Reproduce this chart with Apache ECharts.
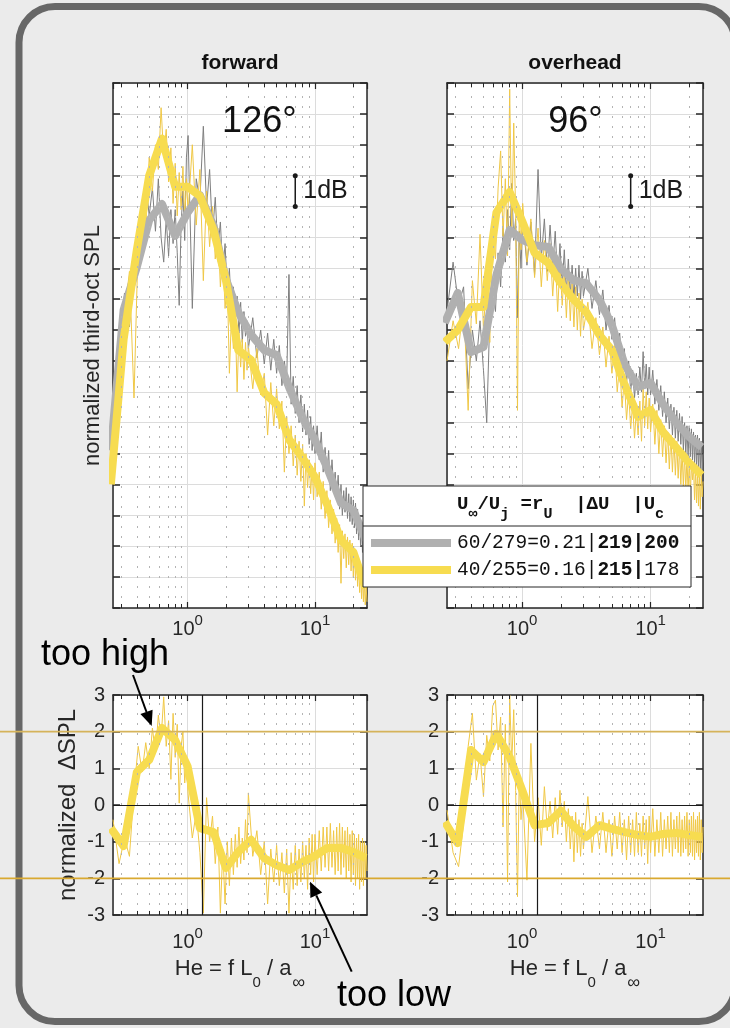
<!DOCTYPE html>
<html>
<head>
<meta charset="utf-8">
<title>forward / overhead</title>
<script src="https://cdn.jsdelivr.net/npm/echarts@6/dist/echarts.min.js"></script>
<style>
  html, body { margin: 0; padding: 0; background: #ebebeb; }
  #myChart { width: 730px; height: 1028px; }
</style>
</head>
<body>
<div id="myChart"></div>
<script>
// narrowband frequencies (He)
const nbFreq = [0.26, 0.29, 0.32, 0.35, 0.38, 0.41, 0.44, 0.47, 0.50, 0.53,
  0.56, 0.59, 0.62, 0.65, 0.68, 0.71, 0.74, 0.77, 0.80, 0.83,
  0.86, 0.89, 0.92, 0.95, 0.98, 1.01, 1.09, 1.17, 1.25, 1.33,
  1.41, 1.49, 1.57, 1.65, 1.73, 1.81, 1.89, 1.97, 2.05, 2.13,
  2.21, 2.29, 2.37, 2.45, 2.53, 2.61, 2.69, 2.77, 2.85, 2.93,
  3.0, 3.25, 3.5, 3.75, 4.0, 4.25, 4.5, 4.75, 5.0, 5.25,
  5.5, 5.75, 6.0, 6.25, 6.5, 6.75, 7.0, 7.25, 7.5, 7.75,
  8.0, 8.25, 8.5, 8.75, 9.0, 9.25, 9.5, 9.75, 10.0, 10.4,
  10.8, 11.2, 11.6, 12.0, 12.4, 12.8, 13.2, 13.6, 14.0, 14.4,
  14.8, 15.2, 15.6, 16.0, 16.4, 16.8, 17.2, 17.6, 18.0, 18.4,
  18.8, 19.2, 19.6, 20.0, 20.4, 20.8, 21.2, 21.6, 22.0, 22.4,
  22.8, 23.2, 23.6, 24.0, 24.4, 24.8, 25.2, 25.6];

// third-octave band centres
const tobFreq = [0.25, 0.315, 0.4, 0.5, 0.63, 0.8, 1, 1.25, 1.6, 2, 2.5,
  3.15, 4, 5, 6.3, 8, 10, 12.5, 16, 20, 25];

// forward 126 deg, narrowband
const fwdNbGray = [6.2, 8.4, 10.2, 9.1, 11.3, 12.4, 11.6, 13.8, 12.7, 13.6,
  12.2, 13.9, 12.0, 11.2, 12.6, 11.4, 12.9, 11.8, 12.9, 11.5,
  9.8, 12.4, 13.5, 11.9, 14.6, 15.3, 9.7, 13.9, 13.2, 15.6,
  13.0, 14.2, 12.1, 13.3, 11.6, 12.5, 10.9, 11.8, 10.2, 11.0,
  9.6, 10.4, 9.3, 10.1, 8.9, 9.9, 8.6, 9.6, 8.8, 9.3,
  8.4, 9.4, 8.1, 9.0, 7.9, 8.9, 7.7, 8.7, 7.6, 8.5,
  7.2, 8.0, 7.4, 10.8, 6.6, 7.5, 6.3, 7.2, 6.0, 6.9,
  5.7, 6.6, 5.6, 6.4, 5.3, 6.2, 5.1, 5.9, 5.0, 5.9,
  4.8, 5.7, 4.4, 5.2, 4.3, 5.1, 3.8, 4.8, 3.9, 4.4,
  3.5, 4.3, 3.2, 4.0, 3.0, 3.8, 3.1, 3.9, 2.9, 3.7,
  2.8, 3.6, 2.7, 3.5, 2.6, 3.4, 2.4, 3.2, 2.2, 3.0,
  2.0, 2.8, 1.8, 2.6, 1.6, 2.4, 1.5, 2.1];
const fwdNbYel = [5.2, 7.6, 9.5, 10.9, 6.8, 11.9, 13.0, 12.3, 14.6, 13.5,
  15.0, 14.2, 16.2, 14.6, 15.5, 13.8, 14.9, 13.1, 14.4, 12.7,
  14.1, 12.9, 14.3, 12.6, 13.9, 12.8, 15.0, 12.4, 14.2, 10.6,
  13.5, 11.7, 13.0, 11.3, 12.3, 10.4, 11.5, 9.7, 10.6, 7.6,
  9.4, 8.4, 9.3, 7.0, 8.9, 7.8, 8.7, 7.4, 8.6, 7.7,
  8.5, 7.1, 8.4, 6.9, 7.6, 5.6, 7.3, 5.9, 7.1, 5.8,
  6.7, 4.4, 6.2, 5.0, 5.9, 4.6, 5.6, 4.3, 5.4, 4.1,
  5.3, 3.3, 5.0, 3.9, 4.8, 3.7, 4.6, 3.5, 4.7, 3.6,
  4.4, 3.2, 4.1, 2.9, 3.8, 2.6, 3.5, 2.4, 3.2, 2.1,
  2.9, 1.8, 2.7, 0.8, 2.5, 1.6, 2.4, 1.3, 2.3, 1.4,
  2.2, 1.2, 2.1, 1.0, 1.9, 0.9, 1.7, 0.7, 1.5, 0.5,
  1.3, 0.3, 1.1, 0.2, 0.9, 0.1, 0.7, 0.2];
// overhead 96 deg, narrowband
const ohNbGray = [9.6, 11.2, 9.8, 10.4, 7.1, 9.0, 8.0, 9.3, 7.7, 6.0,
  9.4, 10.2, 9.6, 11.5, 10.4, 12.3, 11.2, 12.9, 11.6, 13.75,
  11.9, 12.6, 9.4, 12.2, 11.0, 12.7, 11.1, 12.5, 10.8, 14.2,
  11.3, 12.6, 10.9, 12.4, 11.0, 12.2, 10.6, 11.8, 10.4, 11.6,
  10.2, 11.3, 10.1, 11.1, 10.0, 11.0, 10.1, 11.1, 10.0, 10.9,
  10.1, 11.0, 9.7, 10.6, 9.5, 10.3, 9.0, 9.8, 8.7, 9.4,
  8.2, 8.9, 7.7, 8.4, 7.3, 8.0, 7.0, 7.7, 6.8, 7.6,
  6.9, 7.8, 7.0, 8.3, 7.1, 7.9, 6.9, 7.8, 6.9, 7.7,
  6.6, 7.4, 6.4, 7.2, 6.2, 7.0, 6.0, 6.8, 5.8, 6.6,
  5.6, 6.5, 5.5, 6.4, 5.4, 6.3, 5.3, 6.2, 5.1, 6.0,
  5.0, 5.9, 4.9, 5.9, 4.9, 5.8, 4.8, 5.7, 4.7, 5.6,
  4.6, 5.6, 4.5, 5.5, 4.5, 5.4, 4.4, 5.0];
const ohNbYel = [8.0, 9.3, 8.4, 9.9, 6.4, 10.6, 9.2, 12.1, 9.0, 10.8,
  8.6, 12.4, 11.3, 13.6, 14.8, 12.0, 13.9, 11.4, 16.8, 12.2,
  15.7, 12.8, 6.4, 12.9, 11.6, 13.1, 11.2, 12.6, 10.7, 12.3,
  10.4, 11.9, 10.6, 11.8, 10.1, 11.4, 9.6, 11.2, 9.8, 10.9,
  9.4, 10.8, 9.3, 10.5, 9.1, 10.4, 9.0, 10.2, 8.8, 10.0,
  9.0, 9.9, 8.4, 9.4, 8.2, 9.1, 7.8, 8.8, 7.6, 8.5,
  7.0, 7.9, 6.5, 7.4, 6.1, 7.0, 5.8, 6.6, 5.5, 6.4,
  5.6, 6.7, 5.4, 7.1, 5.9, 7.0, 5.8, 6.8, 5.7, 6.6,
  5.3, 6.4, 5.0, 6.1, 4.9, 5.9, 4.7, 5.7, 4.5, 5.6,
  4.4, 5.5, 4.3, 5.4, 4.2, 5.2, 4.0, 5.1, 3.9, 5.0,
  3.8, 4.9, 3.7, 4.8, 3.6, 4.7, 4.15, 4.6, 3.5, 4.5,
  3.4, 4.4, 3.3, 4.4, 3.2, 4.3, 3.6, 4.1];

// third-octave spectra
const fwdTobGray = [5.1, 9.65, 11.04, 12.56, 13.08, 12.05, 12.8, 13.37, 12.37, 10.65, 9.58,
  8.85, 8.35, 8.19, 7.12, 6.15, 5.44, 4.53, 3.4, 3.17, 2.2];
const fwdTobYel = [4.0, 8.7, 11.6, 14.0, 15.2, 13.64, 13.64, 13.34, 12.24, 10.62, 8.35,
  8.03, 6.96, 6.6, 5.44, 4.86, 4.24, 3.34, 2.2, 1.81, 0.65];
const ohTobGray = [9.23, 10.2, 8.29, 8.45, 10.78, 12.24, 11.92, 11.75, 11.69, 11.0, 10.62,
  10.52, 9.97, 9.16, 7.87, 7.16, 7.29, 6.6, 5.99, 5.54, 5.21];
const ohTobYel = [8.61, 9.0, 9.75, 9.75, 12.8, 13.47, 12.53, 11.5, 11.17, 10.52, 10.0,
  9.59, 8.84, 8.35, 7.22, 6.19, 6.41, 5.7, 5.18, 4.7, 4.3];

// normalized delta SPL
const fwdNbDelta = [-0.4, -1.6, -0.9, -1.4, 0.4, 1.6, 0.9, 1.7, 1.0, 2.1,
  1.4, 2.45, 1.8, 2.95, 1.6, 2.3, 0.7, 2.5, 1.3, 2.2,
  0.05, 1.6, 2.0, 0.6, 1.2, 0.3, -0.9, -0.2, -1.3, -2.95,
  0.2, -1.0, -0.3, -1.6, -0.6, -2.95, -1.2, -2.7, -1.0, -2.2,
  -0.9, -1.9, -0.8, -1.7, -0.6, -1.6, -0.9, -1.5, -0.4, -1.3,
  0.33, -1.4, -0.7, -1.9, -1.0, -2.7, -1.2, -2.1, -1.1, -2.2,
  -1.3, -2.4, -1.2, -2.95, -1.3, -2.3, -1.1, -2.2, -1.2, -2.1,
  -1.0, -2.0, -1.1, -2.3, -0.9, -1.9, -0.8, -2.1, -0.8, -1.9,
  -0.7, -1.8, -0.6, -1.7, -0.6, -1.8, -0.5, -1.7, -0.7, -1.9,
  -0.6, -1.8, -0.5, -1.9, -0.6, -1.7, -0.7, -2.0, -0.6, -1.8,
  -0.8, -2.1, -0.7, -1.9, -0.8, -2.2, -0.9, -2.0, -0.8, -2.3,
  -1.0, -2.1, -0.9, -2.2, -1.0, -2.0, -1.1, -1.8];
const ohNbDelta = [-0.14, -1.3, -1.68, -0.5, 1.6, 2.5, 0.68, 1.4, 0.23, 1.9,
  1.2, 2.7, 2.86, 1.5, 2.4, -0.6, 2.2, -2.1, 3.0, 1.1,
  2.6, 0.4, -2.5, 0.8, -0.4, 0.3, -2.05, 1.68, -1.0, 0.2,
  -1.1, 0.5, -0.7, 0.1, -0.9, 0.2, -0.8, 0.4, -0.6, 0.1,
  -1.0, -0.1, -1.2, -0.3, -1.55, -0.2, -1.3, -0.4, -1.4, -0.5,
  -1.2, 0.23, -1.3, -0.3, -1.2, -0.2, -1.3, -0.4, -1.4, -0.3,
  -1.2, -0.2, -1.3, -0.4, -1.5, -0.3, -1.3, -0.4, -1.4, -0.2,
  -1.3, -0.5, -1.4, -0.3, -1.2, -0.4, -1.6, -0.3, -1.3, -0.1,
  -1.4, -0.4, -1.3, -0.2, -1.4, -0.4, -1.2, -0.3, -1.3, -0.2,
  -1.4, -0.4, -1.2, -0.3, -1.3, -0.2, -1.4, -0.4, -1.3, -0.3,
  -1.2, -0.2, -1.4, -0.4, -1.3, -0.3, -1.4, -0.2, -1.5, -0.4,
  -1.3, -0.3, -1.4, -0.2, -1.5, -0.4, -1.3, -0.6];
const fwdTobDelta = [-0.63, -1.12, 0.9, 1.23, 2.1, 1.77, 1.06, -0.63, -0.74, -1.72, -1.28,
  -0.95, -1.45, -1.64, -1.77, -1.55, -1.39, -1.17, -1.17, -1.28, -1.45];
const ohTobDelta = [-0.46, -1.04, 1.5, 1.17, 1.94, 1.31, 0.41, -0.55, -0.49, -0.16, -0.57,
  -0.87, -0.55, -0.65, -0.74, -0.82, -0.87, -0.79, -0.76, -0.82, -0.87];

// axis / annotation values
const minorX = [0.3, 0.4, 0.5, 0.6, 0.7, 0.8, 0.9, 2, 3, 4, 5, 6, 7, 8, 9, 20];
const scaleBarX = [7, 7];
const scaleBarY = [13, 14];
const refLineX = 1.3;
const limitY = [2, -2];

const FONT = '"Liberation Sans", Arial, Helvetica, sans-serif';
const MONO = '"Liberation Mono", "DejaVu Sans Mono", monospace';
const INK = '#262626';
const GRAY_NB = '#7f7f7f';
const GRAY_TOB = '#b0b0b0';
const YEL_NB = '#f0c846';
const YEL_TOB = '#f7dc50';

const pairs = (xs, ys) => xs.map((x, i) => [x, ys[i]]);

const gridPos = [
  { left: 113, top: 83, width: 254, height: 525 },
  { left: 447, top: 83, width: 256, height: 525 },
  { left: 113, top: 695, width: 254, height: 220 },
  { left: 447, top: 695, width: 256, height: 220 }
];

function logLabel (v) {
  const e = Math.log10(v);
  if (Math.abs(e - Math.round(e)) > 1e-6) return '';
  return '{b|10}{s|' + Math.round(e) + '}';
}

const xAxes = [];
const yAxes = [];
gridPos.forEach((g, i) => {
  const lower = i >= 2;
  ['bottom', 'top'].forEach(pos => {
    xAxes.push({
      type: 'log', logBase: 10, gridIndex: i, position: pos, min: 0.26, max: 25.6,
      axisLine: { show: true, onZero: false, lineStyle: { color: INK, width: 1.5 } },
      axisTick: { show: true, inside: true, length: 6, lineStyle: { color: INK, width: 1.2 } },
      axisLabel: pos === 'bottom' ? {
        show: true, margin: lower ? 15 : 9, formatter: logLabel, showMinLabel: false, showMaxLabel: false,
        rich: {
          b: { fontFamily: FONT, fontSize: 20, color: INK, lineHeight: 22, verticalAlign: 'bottom' },
          s: { fontFamily: FONT, fontSize: 15, color: INK, lineHeight: 15, verticalAlign: 'bottom', padding: [0, 0, 11, 0] }
        }
      } : { show: false },
      splitLine: { show: pos === 'bottom', lineStyle: { color: '#dcdcdc', width: 1 } },
      name: (lower && pos === 'bottom') ? '{n|He = f L}{s|0}{n| / a}{i|∞}' : '',
      nameLocation: 'middle',
      nameGap: 43,
      nameTextStyle: {
        rich: {
          n: { fontFamily: FONT, fontSize: 22, color: INK, lineHeight: 24, verticalAlign: 'top' },
          s: { fontFamily: FONT, fontSize: 15, color: INK, lineHeight: 15, verticalAlign: 'top', padding: [17, 0, 0, 0] },
          i: { fontFamily: FONT, fontSize: 18, color: INK, lineHeight: 18, verticalAlign: 'top', padding: [16, 0, 0, 1] }
        }
      }
    });
  });
  ['left', 'right'].forEach(pos => {
    yAxes.push({
      type: 'value', gridIndex: i, position: pos,
      min: lower ? -3 : 0, max: lower ? 3 : 17, interval: 1,
      axisLine: { show: true, onZero: false, lineStyle: { color: INK, width: 1.5 } },
      axisTick: { show: true, inside: true, length: 7, lineStyle: { color: INK, width: 1.5 } },
      axisLabel: {
        show: lower && pos === 'left', margin: 8,
        fontFamily: FONT, fontSize: 20, color: INK
      },
      splitLine: { show: pos === 'left', lineStyle: { color: '#dcdcdc', width: 1 } },
      name: pos !== 'left' ? '' : (i === 0 ? 'normalized third-oct SPL' : (i === 2 ? 'normalized  ΔSPL' : '')),
      nameLocation: 'middle',
      nameRotate: 90,
      nameGap: i === 0 ? 9 : 33,
      nameMoveOverlap: false,
      nameTextStyle: { fontFamily: FONT, fontSize: i === 0 ? 22 : 24, color: INK }
    });
  });
});

function minorGrid (i, yMin, yMax, tick) {
  const ml = {
    silent: true, symbol: ['none', 'none'], label: { show: false }, animation: false,
    emphasis: { disabled: true }
  };
  return [{
    type: 'line', xAxisIndex: 2 * i, yAxisIndex: 2 * i, data: [], z: 1, silent: true,
    markLine: Object.assign({}, ml, {
      lineStyle: { color: '#b4b4b4', width: 1, type: [2, 8] },
      data: minorX.map(v => ({ xAxis: v }))
    })
  }, {
    type: 'line', xAxisIndex: 2 * i, yAxisIndex: 2 * i, data: [], z: 6, silent: true,
    markLine: Object.assign({}, ml, {
      lineStyle: { color: INK, width: 1, type: 'solid' },
      data: minorX.flatMap(v => [
        [{ coord: [v, yMin] }, { coord: [v, yMin + tick] }],
        [{ coord: [v, yMax] }, { coord: [v, yMax - tick] }]
      ])
    })
  }];
}

function line (i, data, color, width, z) {
  return {
    type: 'line', xAxisIndex: 2 * i, yAxisIndex: 2 * i, data: data,
    showSymbol: false, symbol: 'none', silent: true, z: z,
    lineStyle: { color: color, width: width, join: 'round', cap: 'butt' }
  };
}

function scaleBar (i, angleText, angleCoord) {
  return {
    type: 'line', xAxisIndex: 2 * i, yAxisIndex: 2 * i, z: 7, silent: true,
    data: pairs(scaleBarX, scaleBarY),
    symbol: 'circle', symbolSize: 5, showSymbol: true,
    lineStyle: { color: '#1a1a1a', width: 1.5 },
    itemStyle: { color: '#1a1a1a' },
    markPoint: {
      symbol: 'circle', symbolSize: 0, silent: true, animation: false,
      data: [
        { coord: [scaleBarX[0], (scaleBarY[0] + scaleBarY[1]) / 2],
          label: { show: true, formatter: '1dB', position: 'right', distance: 8, fontFamily: FONT, fontSize: 25, color: '#1a1a1a' } },
        { coord: angleCoord,
          label: { show: true, formatter: angleText, position: 'inside', fontFamily: FONT, fontSize: 36, color: '#111' } }
      ]
    }
  };
}

function refLines (i) {
  return {
    type: 'line', xAxisIndex: 2 * i, yAxisIndex: 2 * i, data: [], z: 4, silent: true,
    markLine: {
      silent: true, symbol: ['none', 'none'], label: { show: false }, animation: false,
      lineStyle: { color: '#1a1a1a', width: 1.2, type: 'solid' },
      data: [{ yAxis: 0 }, { xAxis: refLineX }]
    }
  };
}

const series = [].concat(
  minorGrid(0, 0, 17, 0.13),
  minorGrid(1, 0, 17, 0.13),
  minorGrid(2, -3, 3, 0.11),
  minorGrid(3, -3, 3, 0.11),
  [
    line(0, pairs(nbFreq, fwdNbGray), GRAY_NB, 1, 2),
    line(0, pairs(nbFreq, fwdNbYel), YEL_NB, 1, 2),
    line(0, pairs(tobFreq, fwdTobGray), GRAY_TOB, 8, 3),
    line(0, pairs(tobFreq, fwdTobYel), YEL_TOB, 8, 3),
    scaleBar(0, '126°', [3.66, 15.72]),
    line(1, pairs(nbFreq, ohNbGray), GRAY_NB, 1, 2),
    line(1, pairs(nbFreq, ohNbYel), YEL_NB, 1, 2),
    line(1, pairs(tobFreq, ohTobGray), GRAY_TOB, 8, 3),
    line(1, pairs(tobFreq, ohTobYel), YEL_TOB, 8, 3),
    scaleBar(1, '96°', [2.6, 15.75]),
    refLines(2),
    line(2, pairs(nbFreq, fwdNbDelta), YEL_NB, 1, 2),
    line(2, pairs(tobFreq, fwdTobDelta), YEL_TOB, 8, 3),
    refLines(3),
    line(3, pairs(nbFreq, ohNbDelta), YEL_NB, 1, 2),
    line(3, pairs(tobFreq, ohTobDelta), YEL_TOB, 8, 3)
  ]
);

const myChart = echarts.init(document.getElementById('myChart'));
myChart.setOption({
  animation: false,
  backgroundColor: '#ebebeb',
  grid: gridPos.map(g => Object.assign({ show: true, backgroundColor: '#fff', borderWidth: 0, containLabel: false }, g)),
  xAxis: xAxes,
  yAxis: yAxes,
  series: series
});

// figure-level annotations
const yTop = myChart.convertToPixel({ xAxisIndex: 4, yAxisIndex: 4 }, [1, limitY[0]])[1];
const yBot = myChart.convertToPixel({ xAxisIndex: 4, yAxisIndex: 4 }, [1, limitY[1]])[1];
const legendRows = {
  h: { fontFamily: MONO, fontWeight: 'bold', fontSize: 19, lineHeight: 22, fill: '#111', verticalAlign: 'top' },
  s: { fontFamily: MONO, fontWeight: 'bold', fontSize: 15, lineHeight: 15, fill: '#111', verticalAlign: 'top', padding: [12, 0, 0, 0] },
  n: { fontFamily: MONO, fontSize: 19.5, fill: '#111' },
  b: { fontFamily: MONO, fontWeight: 'bold', fontSize: 19.5, fill: '#111' }
};

myChart.setOption({
  graphic: [
    { type: 'rect', z: 0, silent: true, shape: { x: 19, y: 6.5, width: 716, height: 1015, r: 36 },
      style: { fill: 'none', stroke: '#676767', lineWidth: 7 } },
    { type: 'text', z: 20, x: 240, y: 63.5, style: { text: 'forward', fontFamily: FONT, fontWeight: 'bold', fontSize: 21, fill: '#111', align: 'center', verticalAlign: 'middle' } },
    { type: 'text', z: 20, x: 575, y: 63.5, style: { text: 'overhead', fontFamily: FONT, fontWeight: 'bold', fontSize: 21, fill: '#111', align: 'center', verticalAlign: 'middle' } },
    { type: 'line', z: 30, silent: true, shape: { x1: 0, y1: yTop, x2: 730, y2: yTop }, style: { stroke: '#d5b35a', lineWidth: 1.6 } },
    { type: 'line', z: 30, silent: true, shape: { x1: 0, y1: yBot, x2: 730, y2: yBot }, style: { stroke: '#d9a930', lineWidth: 1.6 } },
    // legend
    { type: 'rect', z: 40, silent: true, shape: { x: 363, y: 486, width: 328, height: 101 }, style: { fill: '#fff', stroke: INK, lineWidth: 1 } },
    { type: 'line', z: 41, silent: true, shape: { x1: 363, y1: 526, x2: 691, y2: 526 }, style: { stroke: INK, lineWidth: 1 } },
    { type: 'line', z: 41, silent: true, shape: { x1: 371, y1: 543, x2: 451, y2: 543 }, style: { stroke: GRAY_TOB, lineWidth: 8 } },
    { type: 'line', z: 41, silent: true, shape: { x1: 371, y1: 570, x2: 451, y2: 570 }, style: { stroke: YEL_TOB, lineWidth: 8 } },
    { type: 'text', z: 41, x: 457, y: 506, style: { text: '{h|U}{s|∞}{h|/U}{s|j}{h| =r}{s|U}{h|  |ΔU  |U}{s|c}', rich: legendRows, verticalAlign: 'middle' } },
    { type: 'text', z: 41, x: 457, y: 543, style: { text: '{n|60/279=0.21|}{b|219|200}', rich: legendRows, verticalAlign: 'middle' } },
    { type: 'text', z: 41, x: 457, y: 570, style: { text: '{n|40/255=0.16|}{b|215|}{n|178}', rich: legendRows, verticalAlign: 'middle' } },
    // callouts
    { type: 'text', z: 35, x: 41, y: 655.5, style: { text: 'too high', fontFamily: FONT, fontSize: 36, fill: '#000', align: 'left', verticalAlign: 'middle' } },
    { type: 'line', z: 35, silent: true, shape: { x1: 133, y1: 675, x2: 146.5, y2: 712 }, style: { stroke: '#000', lineWidth: 2 } },
    { type: 'polygon', z: 35, silent: true, shape: { points: [[151.7, 726], [140.4, 714.1], [152.6, 709.7]] }, style: { fill: '#000' } },
    { type: 'text', z: 35, x: 337, y: 996.5, style: { text: 'too low', fontFamily: FONT, fontSize: 36, fill: '#000', align: 'left', verticalAlign: 'middle' } },
    { type: 'line', z: 35, silent: true, shape: { x1: 351.7, y1: 971.7, x2: 316.3, y2: 895.3 }, style: { stroke: '#000', lineWidth: 2 } },
    { type: 'polygon', z: 35, silent: true, shape: { points: [[310, 881.7], [322.2, 892.6], [310.4, 898]] }, style: { fill: '#000' } }
  ]
});

window.addEventListener('resize', function () {
  myChart.resize();
});
</script>
</body>
</html>
